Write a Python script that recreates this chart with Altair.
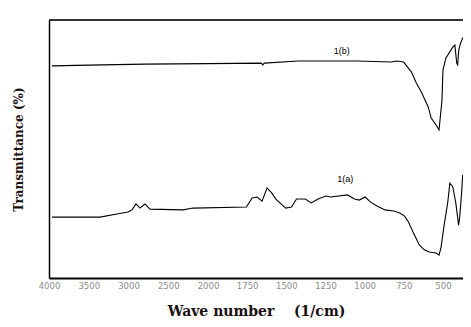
import altair as alt
import pandas as pd

# Spectrum 1(a) (lower trace): wavenumber (1/cm) and transmittance (%)
wn_a = [3962, 3899, 3358, 3145, 3006, 2956, 2906, 2855, 2792, 2730, 2314, 2189,
        1755, 1718, 1686, 1655, 1623, 1592, 1567, 1504, 1467, 1435, 1423, 1379,
        1341, 1297, 1247, 1216, 1109, 1065, 1034, 996, 964, 921, 870, 814, 776,
        745, 720, 688, 651, 619, 588, 544, 525, 512, 494, 469, 456, 437, 418,
        400, 393, 381, 374, 368]
t_a = [23.6, 23.6, 23.6, 24.8, 25.6, 26.4, 28.7, 27.1, 28.7, 26.7, 26.4, 27.1,
       27.5, 31.0, 31.4, 29.8, 34.9, 32.9, 30.6, 27.1, 27.5, 30.6, 30.6, 30.6,
       29.1, 30.6, 31.8, 31.4, 32.2, 30.6, 30.2, 31.4, 29.5, 27.9, 26.4, 26.0, 25.2,
       24.0, 21.7, 17.4, 12.8, 10.9, 10.1, 9.7, 8.9, 12.0, 19.8, 29.5, 36.8, 35.3, 29.1,
       20.5, 23.6, 32.9, 39.9, 39.1]

# Spectrum 1(b) (upper trace)
wn_b = [3962, 3500, 2800, 2000, 1660, 1650, 1640, 1423, 1050, 830, 795, 751,
        701, 670, 638, 594, 575, 544, 525, 506, 500, 481, 437, 424, 412, 406,
        399, 387, 374, 368]
t_b = [82.2, 82.5, 82.9, 83.1, 83.3, 82.6, 83.3, 84.1, 84.1, 83.7, 84.1, 83.7,
       79.8, 75.6, 72.1, 66.3, 62.0, 59.3, 57.4, 69.0, 80.6, 85.3, 89.5, 90.3, 83.3, 82.6,
       88.4, 91.1, 93.0, 93.4]

tick_values = [4000, 3500, 3000, 2500, 2000, 1750, 1500, 1250, 1000, 750, 500]

label_text = ["1(b)", "1(a)"]
label_wn = [1146, 1124]
label_t = [86.0, 36.4]

W, H = 414, 258

df = pd.concat([
    pd.DataFrame({"wn": wn_a, "t": t_a, "s": "1(a)"}),
    pd.DataFrame({"wn": wn_b, "t": t_b, "s": "1(b)"}),
])
labels = pd.DataFrame({"wn": label_wn, "t": label_t, "txt": label_text})

xscale = alt.Scale(type="linear", domain=[4000, 2000, 372], range=[0, 159, W],
                   nice=False, zero=False)
yscale = alt.Scale(domain=[0, 100], nice=False, zero=False)

xaxis = alt.Axis(values=tick_values, format="d", ticks=False, grid=False,
                 labelFont="DejaVu Sans", labelFontSize=8.5, labelColor="#8c8c8c",
                 labelPadding=3, domainColor="black", domainWidth=2, labelFlush=False,
                 title="Wave number\u00a0\u00a0\u00a0\u00a0(1/cm)",
                 titleFont="DejaVu Serif", titleFontSize=14, titleFontWeight="bold",
                 titleColor="#1a1010", titleBaseline="bottom", titleY=40)
yaxis = alt.Axis(labels=False, ticks=False, grid=False, domainColor="black",
                 domainWidth=1.5, title="Transmittance (%)",
                 titleFont="DejaVu Serif", titleFontSize=12, titleFontWeight="bold",
                 titleColor="#1a1010", titleAngle=270, titleX=-31, titleY=H / 2,
                 titleAlign="center", titleBaseline="middle")

lines = alt.Chart(df).mark_line(color="black", strokeWidth=1.1, clip=True).encode(
    x=alt.X("wn:Q", scale=xscale, axis=xaxis),
    y=alt.Y("t:Q", scale=yscale, axis=yaxis),
    detail="s:N",
)

top = alt.Chart(df).mark_rule(color="#333333", strokeWidth=1.5).encode(
    x=alt.value(0), x2=alt.value(W), y=alt.value(0)
)

text = alt.Chart(labels).mark_text(font="Liberation Sans", fontSize=9, color="black",
                                   baseline="bottom").encode(
    x=alt.X("wn:Q", scale=xscale), y=alt.Y("t:Q", scale=yscale), text="txt:N"
)

chart = alt.layer(lines, top, text).properties(
    width=W, height=H,
    autosize=alt.AutoSizeParams(type="none"),
    padding={"left": 41, "top": 12, "right": 0, "bottom": 41},
).configure_view(stroke=None).configure(background="white")

chart.save("out.html", embed_options={"renderer": "svg", "actions": False})
